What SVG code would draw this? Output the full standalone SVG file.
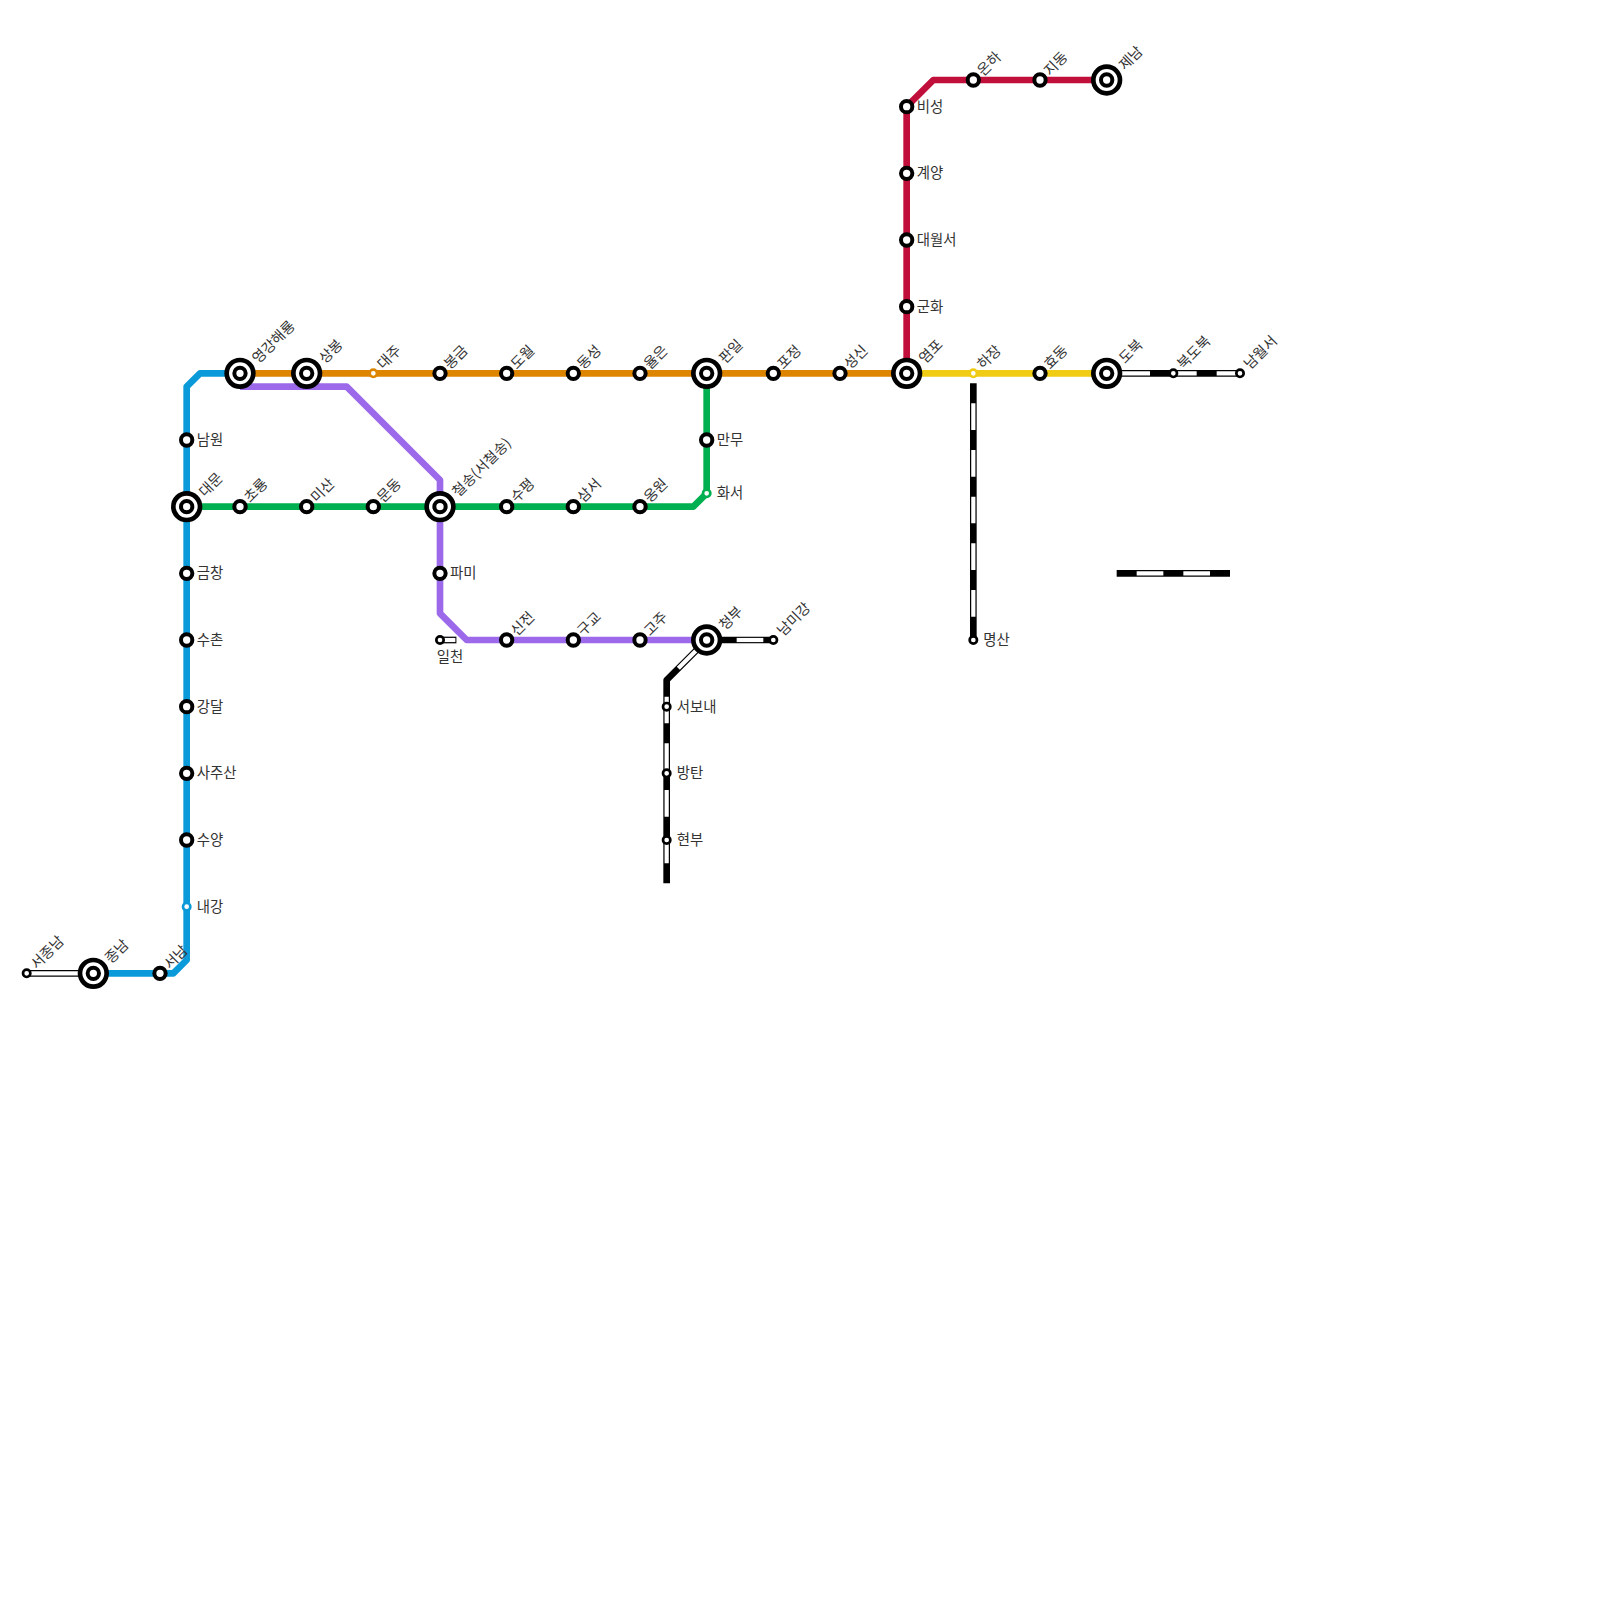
<svg xmlns="http://www.w3.org/2000/svg" width="1600" height="1600" viewBox="0 0 1600 1600">
<style>
text{font-family:"Noto Sans CJK KR","Noto Sans",sans-serif;font-size:14.4px;fill:#333}
.l{fill:none;stroke-width:6.67;stroke-linejoin:round}
.k{stroke:#000;stroke-linejoin:round}
.w{fill:none;stroke:#fff;stroke-width:4.2}
.d{stroke-dasharray:26.67 20}
.i1{fill:#fff;stroke:#000;stroke-width:4.67}
.i2{fill:#fff;stroke:#000;stroke-width:4}
.s{fill:#fff;stroke:#000;stroke-width:4}
.m{fill:#fff;stroke:#000;stroke-width:2.67}
.c{fill:#fff;stroke-width:2.67}
</style>
<defs>
<g id="ic"><circle class="i1" r="13.33"/><circle class="i2" r="5.67"/></g>
<circle id="st" class="s" r="5.67"/>
<circle id="mn" class="m" r="3.67"/>
</defs>
<g id="connectors">
<path class="l" stroke="#0b9ad9" d="M93.33 973.33H173.33L186.67 960V386.67L200 373.33H240"/>
<path class="l" stroke="#9b69ea" d="M240 386.67H346.67L440 480V613.33L466.67 640H706.67"/>
<path class="l" stroke="#00b050" d="M186.67 506.67H693.33L706.67 493.33V373.33"/>
<path class="l" stroke="#bf0f3a" d="M906.67 373.33V106.67L933.33 80H1106.67"/>
<path class="l" stroke="#f0cc14" d="M906.67 373.33H1106.67"/>
<path class="l" stroke="#de8500" d="M240 373.33H906.67"/>
<g id="stripes">
<path class="l k" d="M1116.67 573.33H1230"/><path class="w d" d="M1136.67 573.33H1230"/>
<path class="l k" d="M973.33 383.33V640"/><path class="w d" d="M973.33 403.33V640"/>
<path class="l k" d="M1106.67 373.33H1240"/><path class="w" d="M1106.67 373.33H1150M1170 373.33H1196.67M1216.67 373.33H1240"/>
<path class="l k" d="M26.67 973.33H93.33"/><path class="w" d="M26.67 973.33H93.33"/>
<path class="l k" d="M706.67 640H773.33"/><path class="w" d="M736.67 640H763.33"/>
<path class="l k" d="M440 640H456.4"/><path class="w" d="M440 640H455.4"/>
<path class="l k" d="M706.67 640L666.67 680V883.33"/><path class="w" d="M706.67 640L678.33 668.33"/><path class="w d" d="M666.67 696.67V883.33"/>
</g>
</g>
<g id="n-namwon"><use href="#st" x="186.67" y="440"/><text x="196.67" y="445">남원</text></g>
<g id="n-daemun"><use href="#ic" x="186.67" y="506.67"/><text transform="translate(205 497.67) rotate(-45)">대문</text></g>
<g id="n-geumchang"><use href="#st" x="186.67" y="573.33"/><text x="196.67" y="578.33">금창</text></g>
<g id="n-suchon"><use href="#st" x="186.67" y="640"/><text x="196.67" y="645">수촌</text></g>
<g id="n-gangdal"><use href="#st" x="186.67" y="706.67"/><text x="196.67" y="711.67">강달</text></g>
<g id="n-sajusan"><use href="#st" x="186.67" y="773.33"/><text x="196.67" y="778.33">사주산</text></g>
<g id="n-suyang"><use href="#st" x="186.67" y="840"/><text x="196.67" y="845">수양</text></g>
<g id="n-naegang"><circle class="c" stroke="#0b9ad9" cx="186.67" cy="906.67" r="3.67"/><text x="196.67" y="911.67">내강</text></g>
<g id="n-seonam"><use href="#st" x="160" y="973.33"/><text transform="translate(170 970) rotate(-45)">서남</text></g>
<g id="n-jongnam"><use href="#ic" x="93.33" y="973.33"/><text transform="translate(111 964.33) rotate(-45)">종남</text></g>
<g id="n-seojongnam"><use href="#mn" x="26.67" y="973.33"/><text transform="translate(36.67 970) rotate(-45)">서종남</text></g>
<g id="n-yeonggang"><use href="#ic" x="240" y="373.33"/><text transform="translate(258.33 364.33) rotate(-45)">영강해룡</text></g>
<g id="n-sangbong"><use href="#ic" x="306.67" y="373.33"/><text transform="translate(325 364.33) rotate(-45)">상봉</text></g>
<g id="n-daeju"><circle class="c" stroke="#de8500" cx="373.33" cy="373.33" r="3.67"/><text transform="translate(383.33 370) rotate(-45)">대주</text></g>
<g id="n-bonggeum"><use href="#st" x="440" y="373.33"/><text transform="translate(450 370) rotate(-45)">봉금</text></g>
<g id="n-dowol"><use href="#st" x="506.67" y="373.33"/><text transform="translate(516.67 370) rotate(-45)">도월</text></g>
<g id="n-dongseong"><use href="#st" x="573.33" y="373.33"/><text transform="translate(583.33 370) rotate(-45)">동성</text></g>
<g id="n-yuleun"><use href="#st" x="640" y="373.33"/><text transform="translate(650 370) rotate(-45)">율은</text></g>
<g id="n-panil"><use href="#ic" x="706.67" y="373.33"/><text transform="translate(725 364.33) rotate(-45)">판일</text></g>
<g id="n-pojeong"><use href="#st" x="773.33" y="373.33"/><text transform="translate(783.33 370) rotate(-45)">포정</text></g>
<g id="n-seongsin"><use href="#st" x="840" y="373.33"/><text transform="translate(850 370) rotate(-45)">성신</text></g>
<g id="n-yeompo"><use href="#ic" x="906.67" y="373.33"/><text transform="translate(925 364.33) rotate(-45)">염포</text></g>
<g id="n-hajang"><circle class="c" stroke="#f0cc14" cx="973.33" cy="373.33" r="3.67"/><text transform="translate(983.33 370) rotate(-45)">하장</text></g>
<g id="n-hyodong"><use href="#st" x="1040" y="373.33"/><text transform="translate(1050 370) rotate(-45)">효동</text></g>
<g id="n-dobuk"><use href="#ic" x="1106.67" y="373.33"/><text transform="translate(1125 364.33) rotate(-45)">도북</text></g>
<g id="n-bukdobuk"><use href="#mn" x="1173.33" y="373.33"/><text transform="translate(1183.33 370) rotate(-45)">북도북</text></g>
<g id="n-namwolseo"><use href="#mn" x="1240" y="373.33"/><text transform="translate(1250 370) rotate(-45)">남월서</text></g>
<g id="n-bi"><use href="#st" x="906.67" y="106.67"/><text x="916.67" y="111.67">비성</text></g>
<g id="n-gyeyang"><use href="#st" x="906.67" y="173.33"/><text x="916.67" y="178.33">계양</text></g>
<g id="n-daewolseo"><use href="#st" x="906.67" y="240"/><text x="916.67" y="245">대월서</text></g>
<g id="n-gunhwa"><use href="#st" x="906.67" y="306.67"/><text x="916.67" y="311.67">군화</text></g>
<g id="n-onha"><use href="#st" x="973.33" y="80"/><text transform="translate(983.33 76.67) rotate(-45)">온하</text></g>
<g id="n-jidong"><use href="#st" x="1040" y="80"/><text transform="translate(1050 76.67) rotate(-45)">지동</text></g>
<g id="n-jenam"><use href="#ic" x="1106.67" y="80"/><text transform="translate(1125 71) rotate(-45)">제남</text></g>
<g id="n-manmu"><use href="#st" x="706.67" y="440"/><text x="716.67" y="445">만무</text></g>
<g id="n-hwaseo"><circle class="c" stroke="#00b050" cx="706.67" cy="493.33" r="3.67"/><text x="716.67" y="498.33">화서</text></g>
<g id="n-chorong"><use href="#st" x="240" y="506.67"/><text transform="translate(250 503.33) rotate(-45)">초룡</text></g>
<g id="n-misan"><use href="#st" x="306.67" y="506.67"/><text transform="translate(316.67 503.33) rotate(-45)">미산</text></g>
<g id="n-mundong"><use href="#st" x="373.33" y="506.67"/><text transform="translate(383.33 503.33) rotate(-45)">문동</text></g>
<g id="n-cheolsong"><use href="#ic" x="440" y="506.67"/><text transform="translate(458.33 497.67) rotate(-45)">철송(서철송)</text></g>
<g id="n-supyeong"><use href="#st" x="506.67" y="506.67"/><text transform="translate(516.67 503.33) rotate(-45)">수평</text></g>
<g id="n-samseo"><use href="#st" x="573.33" y="506.67"/><text transform="translate(583.33 503.33) rotate(-45)">삼서</text></g>
<g id="n-ongwon"><use href="#st" x="640" y="506.67"/><text transform="translate(650 503.33) rotate(-45)">옹원</text></g>
<g id="n-pami"><use href="#st" x="440" y="573.33"/><text x="450" y="578.33">파미</text></g>
<g id="n-ilcheon"><use href="#mn" x="440" y="640"/><text x="436.67" y="661.67">일천</text></g>
<g id="n-sinjeon"><use href="#st" x="506.67" y="640"/><text transform="translate(516.67 636.67) rotate(-45)">신전</text></g>
<g id="n-gugyo"><use href="#st" x="573.33" y="640"/><text transform="translate(583.33 636.67) rotate(-45)">구교</text></g>
<g id="n-goju"><use href="#st" x="640" y="640"/><text transform="translate(650 636.67) rotate(-45)">고주</text></g>
<g id="n-cheongbu"><use href="#ic" x="706.67" y="640"/><text transform="translate(725 631) rotate(-45)">청부</text></g>
<g id="n-nammigang"><use href="#mn" x="773.33" y="640"/><text transform="translate(783.33 636.67) rotate(-45)">남미강</text></g>
<g id="n-seobonae"><use href="#mn" x="666.67" y="706.67"/><text x="676.67" y="711.67">서보내</text></g>
<g id="n-bangtan"><use href="#mn" x="666.67" y="773.33"/><text x="676.67" y="778.33">방탄</text></g>
<g id="n-hyeonbu"><use href="#mn" x="666.67" y="840"/><text x="676.67" y="845">현부</text></g>
<g id="n-myeongsan"><use href="#mn" x="973.33" y="640"/><text x="983.33" y="645">명산</text></g>
</svg>
